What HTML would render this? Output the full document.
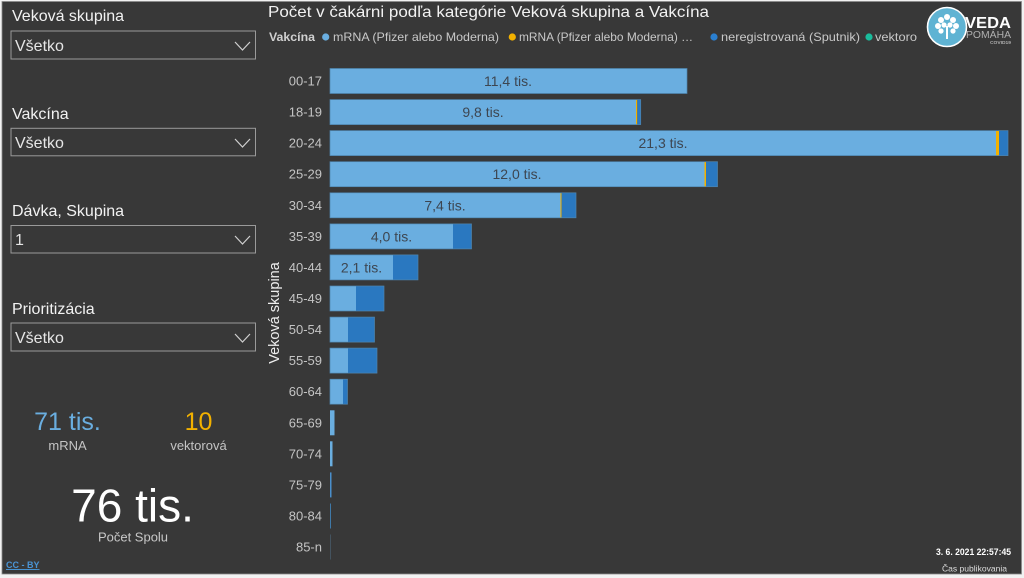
<!DOCTYPE html>
<html><head><meta charset="utf-8">
<style>
html,body{margin:0;padding:0;background:#f2f2f2;}
svg{display:block;}
text{font-family:"Liberation Sans",Arial,sans-serif;}
</style></head>
<body>
<svg width="1024" height="578" viewBox="0 0 1024 578" xmlns="http://www.w3.org/2000/svg">
<rect x="0" y="0" width="1024" height="578" fill="#f2f2f2"/>
<rect x="2" y="1.5" width="1019.5" height="572.5" fill="#383838" stroke="#8a8a8a" stroke-width="0.8"/>

<!-- Left slicers -->
<g fill="#f2f2f2" font-size="16">
<text x="12" y="21">Veková skupina</text>
<text x="12" y="119">Vakcína</text>
<text x="12" y="216">Dávka, Skupina</text>
<text x="12" y="314">Prioritizácia</text>
</g>
<g fill="none" stroke="#9a9a9a" stroke-width="1">
<rect x="11" y="31" width="244.5" height="28"/>
<rect x="11" y="128.3" width="244.5" height="27.5"/>
<rect x="11" y="225.5" width="244.5" height="27.5"/>
<rect x="11" y="323" width="244.5" height="28"/>
</g>
<g fill="none" stroke="#d0d0d0" stroke-width="1.2">
<polyline points="235,42 242.5,50 250,42"/>
<polyline points="235,139 242.5,147 250,139"/>
<polyline points="235,236 242.5,244 250,236"/>
<polyline points="235,334 242.5,342 250,334"/>
</g>
<g fill="#e6e6e6" font-size="16">
<text x="15" y="51">Všetko</text>
<text x="15" y="148">Všetko</text>
<text x="15" y="245">1</text>
<text x="15" y="343">Všetko</text>
</g>

<!-- KPI cards -->
<text x="67.5" y="430" font-size="25" fill="#6aaee0" text-anchor="middle">71 tis.</text>
<text x="67.5" y="450" font-size="13" fill="#c4c4c4" text-anchor="middle">mRNA</text>
<text x="198.5" y="430" font-size="25" fill="#f2b100" text-anchor="middle">10</text>
<text x="198.5" y="450" font-size="13" fill="#c4c4c4" text-anchor="middle">vektorová</text>
<text x="132.5" y="521.5" font-size="46" fill="#ffffff" text-anchor="middle">76 tis.</text>
<text x="133" y="541.5" font-size="13" fill="#c8c8c8" text-anchor="middle">Počet Spolu</text>
<text x="6" y="568" font-size="9" font-weight="bold" fill="#4a94d4" text-decoration="underline">CC - BY</text>
<line x1="6" y1="569.5" x2="36" y2="569.5" stroke="#4a94d4" stroke-width="0.8"/>

<!-- Chart title & legend -->
<text x="268" y="17" font-size="16" fill="#f2f2f2" textLength="441" lengthAdjust="spacingAndGlyphs">Počet v čakárni podľa kategórie Veková skupina a Vakcína</text>
<text x="269" y="41" font-size="12" font-weight="bold" fill="#d0d0d0" textLength="46" lengthAdjust="spacingAndGlyphs">Vakcína</text>
<circle cx="325.7" cy="37" r="3.6" fill="#6aaee0"/>
<text x="333" y="41" font-size="12" fill="#c8c8c8" textLength="166" lengthAdjust="spacingAndGlyphs">mRNA (Pfizer alebo Moderna)</text>
<circle cx="512.3" cy="37" r="3.6" fill="#f2b100"/>
<text x="519" y="41" font-size="12" fill="#c8c8c8" textLength="174" lengthAdjust="spacingAndGlyphs">mRNA (Pfizer alebo Moderna) …</text>
<circle cx="714" cy="37" r="3.6" fill="#2a7fd0"/>
<text x="721" y="41" font-size="12" fill="#c8c8c8" textLength="139" lengthAdjust="spacingAndGlyphs">neregistrovaná (Sputnik)</text>
<circle cx="869" cy="37" r="3.6" fill="#1abc9c"/>
<text x="875" y="41" font-size="12" fill="#c8c8c8" textLength="42" lengthAdjust="spacingAndGlyphs">vektoro</text>

<!-- Logo -->
<circle cx="947" cy="27" r="19.5" fill="#5fb3d3" stroke="#ffffff" stroke-width="1.6"/>
<g fill="#ffffff">
<circle cx="941" cy="20" r="3"/><circle cx="947" cy="17" r="3"/><circle cx="953" cy="20" r="3"/>
<circle cx="938" cy="26" r="3"/><circle cx="956" cy="26" r="3"/><circle cx="944" cy="25" r="2.6"/><circle cx="950" cy="25" r="2.6"/>
<circle cx="941" cy="31" r="2.6"/><circle cx="953" cy="31" r="2.6"/>
<rect x="946" y="26" width="2" height="13"/>
</g>
<text x="965" y="28" font-size="16" font-weight="bold" fill="#ffffff" textLength="46" lengthAdjust="spacingAndGlyphs">VEDA</text>
<text x="966" y="38" font-size="10" fill="#b0b0b0" textLength="45" lengthAdjust="spacingAndGlyphs">POMÁHA</text>
<text x="990" y="44" font-size="4.5" font-weight="bold" fill="#b0b0b0" textLength="21" lengthAdjust="spacingAndGlyphs">COVID19</text>

<!-- Axis title -->
<text transform="translate(279,313) rotate(-90)" font-size="14.5" fill="#eeeeee" text-anchor="middle">Veková skupina</text>

<!-- Tick labels -->
<g font-size="13" fill="#c4c4c4" text-anchor="end">
<text x="322" y="85.5">00-17</text>
<text x="322" y="116.6">18-19</text>
<text x="322" y="147.6">20-24</text>
<text x="322" y="178.7">25-29</text>
<text x="322" y="209.8">30-34</text>
<text x="322" y="240.9">35-39</text>
<text x="322" y="271.9">40-44</text>
<text x="322" y="303">45-49</text>
<text x="322" y="334.1">50-54</text>
<text x="322" y="365.1">55-59</text>
<text x="322" y="396.2">60-64</text>
<text x="322" y="427.3">65-69</text>
<text x="322" y="458.3">70-74</text>
<text x="322" y="489.4">75-79</text>
<text x="322" y="520.5">80-84</text>
<text x="322" y="551.5">85-n</text>
</g>

<!-- Bars -->
<g>
<!-- 00-17 -->
<rect x="330" y="68.5" width="357" height="25" fill="#6aaee0"/>
<!-- 18-19 -->
<rect x="330" y="99.6" width="306" height="25" fill="#6aaee0"/>
<rect x="636" y="99.6" width="1.3" height="25" fill="#f2b100"/>
<rect x="637.3" y="99.6" width="3.4" height="25" fill="#2a78c0"/>
<!-- 20-24 -->
<rect x="330" y="130.6" width="666" height="25" fill="#6aaee0"/>
<rect x="996" y="130.6" width="3" height="25" fill="#f2b100"/>
<rect x="999" y="130.6" width="9" height="25" fill="#2a78c0"/>
<!-- 25-29 -->
<rect x="330" y="161.7" width="374.5" height="25" fill="#6aaee0"/>
<rect x="704.5" y="161.7" width="1.5" height="25" fill="#f2b100"/>
<rect x="706" y="161.7" width="11.5" height="25" fill="#2a78c0"/>
<!-- 30-34 -->
<rect x="330" y="192.8" width="230.5" height="25" fill="#6aaee0"/>
<rect x="560.5" y="192.8" width="1" height="25" fill="#f2b100"/>
<rect x="561.5" y="192.8" width="14.5" height="25" fill="#2a78c0"/>
<!-- 35-39 -->
<rect x="330" y="223.9" width="123" height="25" fill="#6aaee0"/>
<rect x="453" y="223.9" width="18.5" height="25" fill="#2a78c0"/>
<!-- 40-44 -->
<rect x="330" y="254.9" width="63" height="25" fill="#6aaee0"/>
<rect x="393" y="254.9" width="25" height="25" fill="#2a78c0"/>
<!-- 45-49 -->
<rect x="330" y="286" width="26" height="25" fill="#6aaee0"/>
<rect x="356" y="286" width="28" height="25" fill="#2a78c0"/>
<!-- 50-54 -->
<rect x="330" y="317.1" width="18" height="25" fill="#6aaee0"/>
<rect x="348" y="317.1" width="26.5" height="25" fill="#2a78c0"/>
<!-- 55-59 -->
<rect x="330" y="348.1" width="18" height="25" fill="#6aaee0"/>
<rect x="348" y="348.1" width="29" height="25" fill="#2a78c0"/>
<!-- 60-64 -->
<rect x="330" y="379.2" width="13" height="25" fill="#6aaee0"/>
<rect x="343" y="379.2" width="4.5" height="25" fill="#2a78c0"/>
<!-- 65-69 -->
<rect x="330" y="410.3" width="4.5" height="25" fill="#6aaee0"/>
<!-- 70-74 -->
<rect x="330" y="441.3" width="2.5" height="25" fill="#6aaee0"/>
<!-- 75-79 -->
<rect x="330" y="472.4" width="1.5" height="25" fill="#4a8fcc"/>
<!-- 80-84 -->
<rect x="330" y="503.5" width="1" height="25" fill="#3f79a8"/>
<!-- 85-n -->
<rect x="330" y="534.5" width="0.7" height="25" fill="#4a5f70"/>
</g>
<!-- subtle bar outlines -->
<g fill="none" stroke="#4f85ae" stroke-width="0.7">
<rect x="330" y="68.5" width="357" height="25"/>
<rect x="330" y="99.6" width="310.7" height="25"/>
<rect x="330" y="130.6" width="678" height="25"/>
<rect x="330" y="161.7" width="387.5" height="25"/>
<rect x="330" y="192.8" width="246" height="25"/>
<rect x="330" y="223.9" width="141.5" height="25"/>
<rect x="330" y="254.9" width="88" height="25"/>
<rect x="330" y="286" width="54" height="25"/>
<rect x="330" y="317.1" width="44.5" height="25"/>
<rect x="330" y="348.1" width="47" height="25"/>
<rect x="330" y="379.2" width="17.5" height="25"/>
</g>

<!-- Data labels -->
<g font-size="14" fill="#3d4651" text-anchor="middle">
<text x="508" y="86">11,4 tis.</text>
<text x="483" y="117.1">9,8 tis.</text>
<text x="663" y="148.1">21,3 tis.</text>
<text x="517" y="179.2">12,0 tis.</text>
<text x="445" y="210.3">7,4 tis.</text>
<text x="391.5" y="241.4">4,0 tis.</text>
<text x="361.5" y="272.4">2,1 tis.</text>
</g>

<!-- Publish time -->
<text x="1011" y="555" font-size="9" font-weight="bold" fill="#ffffff" text-anchor="end" textLength="75" lengthAdjust="spacingAndGlyphs">3. 6. 2021 22:57:45</text>
<text x="1007" y="571.5" font-size="8.5" fill="#dddddd" text-anchor="end" textLength="65" lengthAdjust="spacingAndGlyphs">Čas publikovania</text>
</svg>
</body></html>
